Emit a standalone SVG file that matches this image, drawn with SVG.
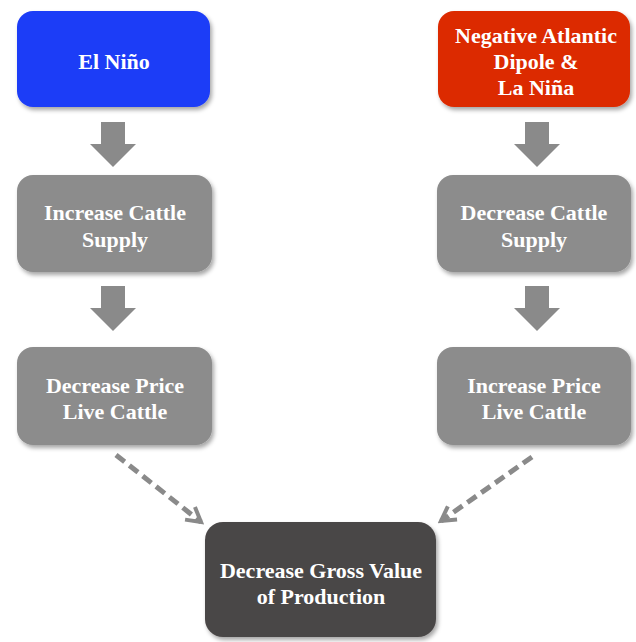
<svg xmlns="http://www.w3.org/2000/svg" width="636" height="642" viewBox="0 0 636 642">
<defs>
<filter id="sh" x="-10%" y="-10%" width="130%" height="130%">
<feDropShadow dx="2" dy="3" stdDeviation="2" flood-color="#000" flood-opacity="0.35"/>
</filter>
<marker id="chev" viewBox="0 0 10 10" refX="8" refY="5" markerWidth="4" markerHeight="4" orient="auto" markerUnits="strokeWidth">
<path d="M1,1 L8,5 L1,9" fill="none" stroke="#8a8a8a" stroke-width="2"/>
</marker>
</defs>
<style>
.box{filter:url(#sh);}
.t{font-family:"Liberation Serif","Times New Roman",serif;font-weight:bold;font-size:22px;fill:#fff;text-anchor:middle;}
.gray{fill:#8c8c8c;}
.blk{fill:#8a8a8a;}
.dash{fill:none;stroke:#8a8a8a;stroke-width:5;stroke-dasharray:11 6;}
</style>
<rect width="636" height="642" fill="#fff"/>
<g id="connectors">
<path class="blk" d="M101,122 H125 V144 H136 L113,167 L90,144 H101 Z"/>
<path class="blk" d="M101,286 H125 V308 H136 L113,331 L90,308 H101 Z"/>
<path class="blk" d="M525,122 H549 V144 H560 L537,167 L514,144 H525 Z"/>
<path class="blk" d="M525,286 H549 V308 H560 L537,331 L514,308 H525 Z"/>
<line class="dash" x1="116" y1="455" x2="201" y2="522" marker-end="url(#chev)"/>
<line class="dash" x1="532" y1="457" x2="441" y2="521" marker-end="url(#chev)"/>
</g>
<g id="elnino">
<rect class="box" x="17" y="11" width="193" height="96" rx="16" fill="#1f3cf7"/>
<text class="t" x="114" y="69">El Niño</text>
</g>
<g id="lanina">
<rect class="box" x="438" y="11" width="192" height="96" rx="16" fill="#dc2a00"/>
<text class="t" x="536" y="43">Negative Atlantic</text>
<text class="t" x="536" y="69">Dipole &amp;</text>
<text class="t" x="536" y="95">La Niña</text>
</g>
<g id="incsupply">
<rect class="box gray" x="17" y="175" width="195" height="97" rx="16"/>
<text class="t" x="115" y="220">Increase Cattle</text>
<text class="t" x="115" y="247">Supply</text>
</g>
<g id="decsupply">
<rect class="box gray" x="437" y="175" width="194" height="97" rx="16"/>
<text class="t" x="534" y="220">Decrease Cattle</text>
<text class="t" x="534" y="247">Supply</text>
</g>
<g id="decprice">
<rect class="box gray" x="17" y="347" width="195" height="98" rx="16"/>
<text class="t" x="115" y="393">Decrease Price</text>
<text class="t" x="115" y="419">Live Cattle</text>
</g>
<g id="incprice">
<rect class="box gray" x="437" y="347" width="194" height="98" rx="16"/>
<text class="t" x="534" y="393">Increase Price</text>
<text class="t" x="534" y="419">Live Cattle</text>
</g>
<g id="gvp">
<rect class="box" x="205" y="522" width="231" height="115" rx="18" fill="#4a4646"/>
<text class="t" x="321" y="578">Decrease Gross Value</text>
<text class="t" x="321" y="604">of Production</text>
</g>
</svg>
